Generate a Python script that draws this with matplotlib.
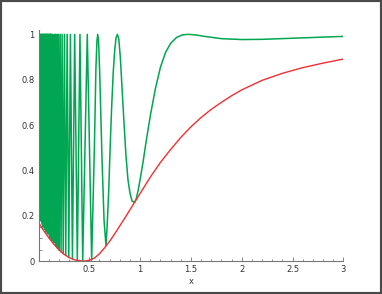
import matplotlib.pyplot as plt
from matplotlib.patches import Rectangle
from matplotlib.ticker import MultipleLocator, FuncFormatter

# Curva roja (envolvente inferior)
red_x = [0.0, 0.05, 0.1, 0.15, 0.2, 0.25, 0.3, 0.35, 0.4, 0.45, 0.5, 0.55, 0.6,
         0.65, 0.7, 0.75, 0.8, 0.85, 0.9, 0.95, 1.0, 1.1, 1.2, 1.3, 1.4, 1.5,
         1.6, 1.7, 1.8, 1.9, 2.0, 2.2, 2.4, 2.6, 2.8, 3.0]
red_y = [0.17, 0.135, 0.103, 0.075, 0.05, 0.03, 0.016, 0.006, 0.001, 0.0, 0.003,
         0.013, 0.032, 0.058, 0.087, 0.12, 0.155, 0.19, 0.226, 0.262, 0.298,
         0.37, 0.435, 0.492, 0.545, 0.592, 0.633, 0.669, 0.70, 0.729, 0.755,
         0.797, 0.828, 0.853, 0.873, 0.891]

# Curva verde: maximos y minimos de la zona densa (x < 0.53)
peak_x = [0.002, 0.0055, 0.009, 0.0125, 0.016, 0.0195, 0.023, 0.0265, 0.030,
          0.0335, 0.037, 0.0405, 0.044, 0.0475, 0.051, 0.0545, 0.058, 0.0615,
          0.065, 0.0685, 0.072, 0.0755, 0.079, 0.0825, 0.086, 0.0895, 0.093,
          0.0965, 0.100, 0.1035, 0.107, 0.1105, 0.114, 0.1175, 0.121, 0.1245,
          0.129, 0.137, 0.146, 0.156, 0.168, 0.181, 0.196, 0.213, 0.232, 0.255,
          0.282, 0.314, 0.356, 0.408, 0.480]
peak_y = [0.71, 0.72, 0.70, 0.71, 0.72, 1.0, 0.97, 1.0, 1.0, 0.99, 1.0, 0.95,
          1.0, 1.0, 0.93, 1.0, 1.0, 0.97, 1.0, 1.0, 0.96, 1.0, 1.0, 0.98, 1.0,
          1.0, 0.96, 1.0, 1.0, 0.99, 1.0, 0.98, 1.0, 1.0, 1.0, 0.99, 1.0,
          1.0, 0.99, 1.0, 1.0, 1.0, 1.0, 1.0, 1.0, 1.0,
          1.0, 1.0, 1.0, 1.0, 1.0]
trough_x = [0.0037, 0.0072, 0.0107, 0.0142, 0.0177, 0.0212, 0.0247, 0.0282,
            0.0317, 0.0352, 0.0387, 0.0422, 0.0457, 0.0492, 0.0527, 0.0562,
            0.0597, 0.0632, 0.0667, 0.0702, 0.0737, 0.0772, 0.0807, 0.0842,
            0.0877, 0.0912, 0.0947, 0.0982, 0.1017, 0.1052, 0.1087, 0.1122,
            0.1157, 0.1192, 0.1227, 0.1267, 0.133, 0.141, 0.151, 0.162, 0.174,
            0.188, 0.204, 0.222, 0.243, 0.268, 0.298, 0.334, 0.382, 0.435, 0.523]
trough_y = [0.168, 0.19, 0.175, 0.21, 0.19, 0.20, 0.18, 0.23, 0.17, 0.21,
            0.16, 0.20, 0.15, 0.19, 0.16, 0.23, 0.14, 0.17, 0.15, 0.19,
            0.13, 0.16, 0.14, 0.15, 0.12, 0.20, 0.13, 0.14, 0.12, 0.13,
            0.11, 0.15, 0.10, 0.12, 0.105, 0.13, 0.09, 0.12, 0.08, 0.10,
            0.065, 0.056, 0.047, 0.04, 0.033, 0.024, 0.016, 0.008, 0.002,
            0.0, 0.004]

# Curva verde: tramo suave (x > 0.53)
tail_x = [0.55, 0.565, 0.575, 0.583, 0.591, 0.603, 0.625, 0.645, 0.664,
          0.675, 0.69, 0.705, 0.72, 0.735, 0.75, 0.763, 0.776, 0.79, 0.805,
          0.82, 0.84, 0.86, 0.88, 0.90, 0.92, 0.943, 0.96, 0.98, 1.0, 1.03,
          1.06, 1.1, 1.15, 1.2, 1.25, 1.3, 1.36, 1.42, 1.48, 1.55, 1.65, 1.8,
          2.0, 2.2, 2.5, 2.8, 3.0]
tail_y = [0.50, 0.85, 0.97, 1.0, 0.97, 0.82, 0.45, 0.18, 0.068,
          0.15, 0.30, 0.50, 0.68, 0.83, 0.93, 0.985, 1.0, 0.98, 0.90,
          0.78, 0.62, 0.47, 0.36, 0.30, 0.265, 0.258, 0.272, 0.31, 0.36, 0.44,
          0.53, 0.64, 0.76, 0.855, 0.92, 0.96, 0.987, 0.998, 1.0, 0.997, 0.99,
          0.981, 0.977, 0.978, 0.983, 0.988, 0.991]

# Intercalar maximos y minimos
green_x = [0.0]
green_y = [0.17]
for px, py, tx, ty in zip(peak_x, peak_y, trough_x, trough_y):
    green_x += [px, tx]
    green_y += [py, ty]
green_x += tail_x
green_y += tail_y

fig = plt.figure(figsize=(3.82, 2.94), dpi=100)
ax = fig.add_axes([0.1008, 0.1122, 0.798, 0.7864])

ax.plot(green_x, green_y, color='#00a651', lw=1.1)
ax.plot(red_x, red_y, color='#ee3033', lw=1.0)

ax.set_xlim(0, 3)
ax.set_ylim(0, 1.02)

for s in ['top', 'right']:
    ax.spines[s].set_visible(False)
for s in ['left', 'bottom']:
    ax.spines[s].set_color('#777777')
    ax.spines[s].set_linewidth(0.8)

ax.xaxis.set_major_locator(MultipleLocator(0.5))
ax.xaxis.set_minor_locator(MultipleLocator(0.1))
ax.yaxis.set_major_locator(MultipleLocator(0.2))
ax.yaxis.set_minor_locator(MultipleLocator(0.05))
ax.xaxis.set_major_formatter(FuncFormatter(lambda v, p: '' if v == 0 else '%g' % v))
ax.yaxis.set_major_formatter(FuncFormatter(lambda v, p: '%g' % v))
ax.tick_params(which='both', direction='in', colors='#777777', labelcolor='#333333',
               labelsize=6, width=0.6)
ax.tick_params(which='major', length=3, pad=3)
ax.tick_params(which='minor', length=1.8)

ax.set_xlabel('x', fontsize=6, color='#333333')
ax.xaxis.set_label_coords(0.5, -0.087)
ax.xaxis.label.set_va('center')

fig.patches.append(Rectangle((0, 0), 1, 1, transform=fig.transFigure, fill=False,
                             edgecolor='#4a4a4a', linewidth=3))

fig.savefig('out.png', dpi=100)
